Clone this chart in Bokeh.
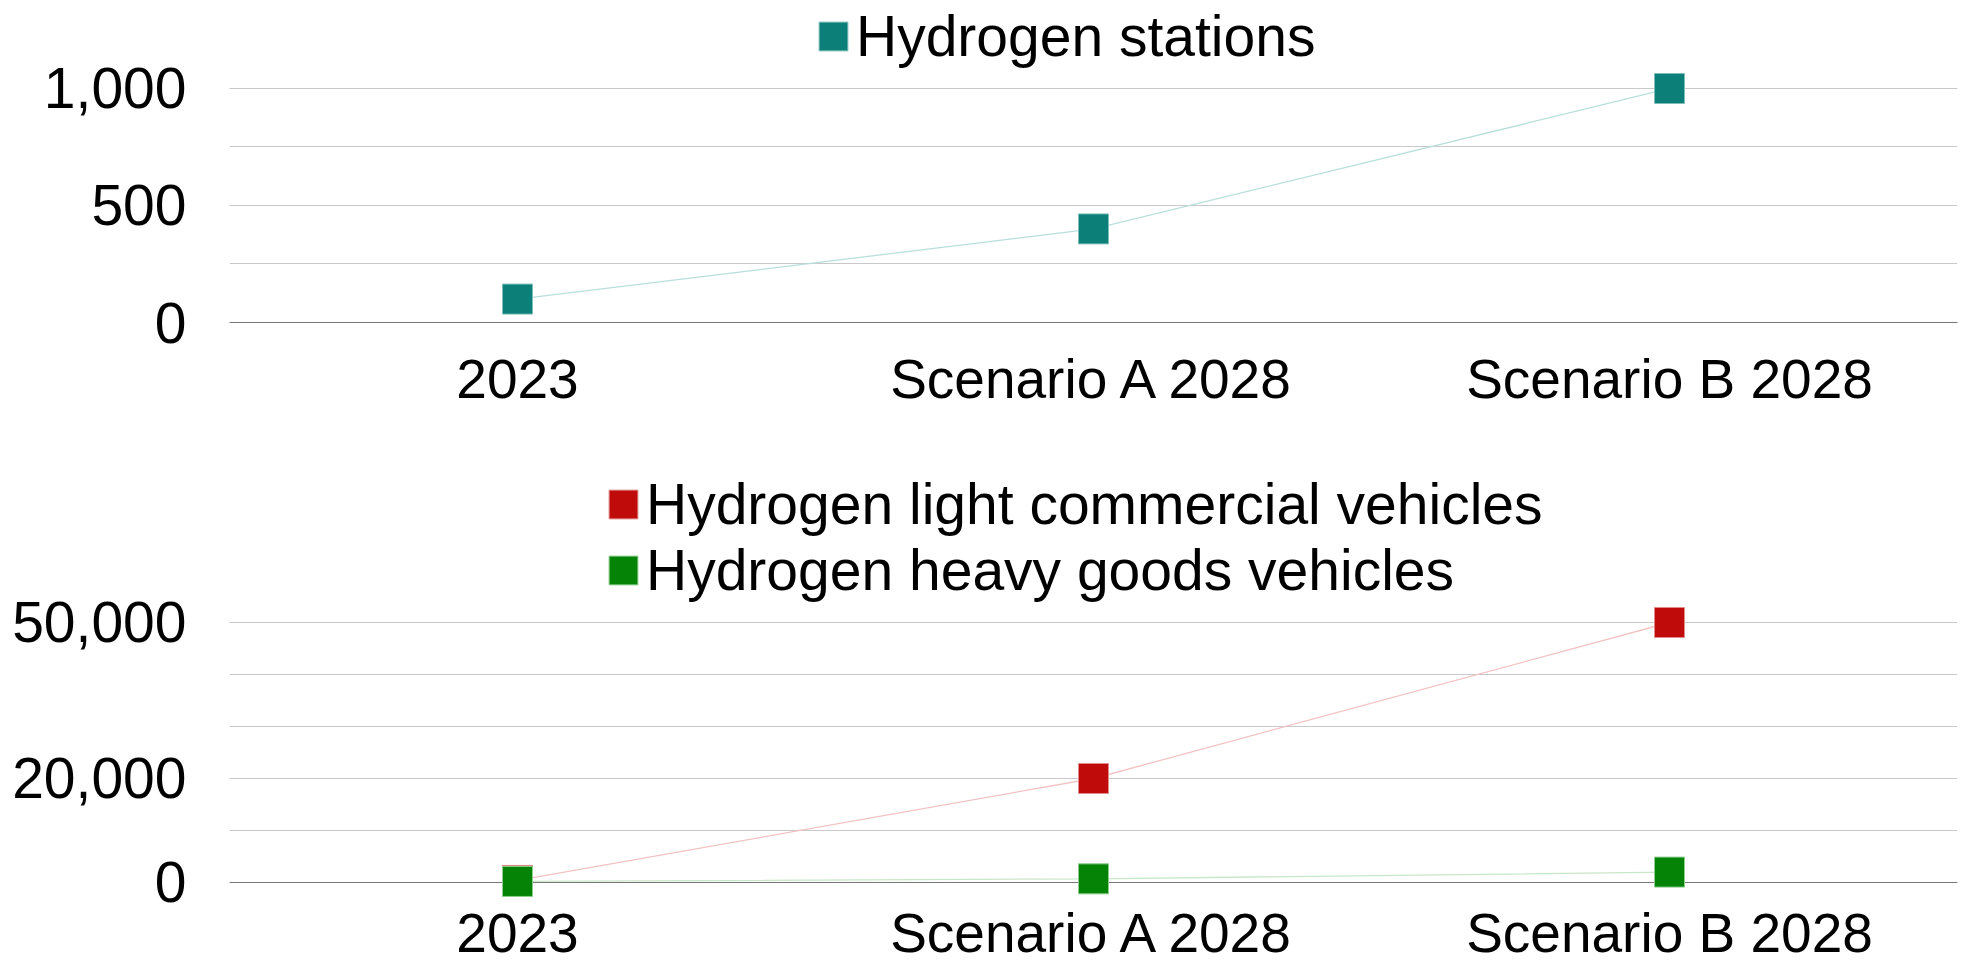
from bokeh.plotting import figure
from bokeh.layouts import column
from bokeh.models import (FactorRange, Range1d, FixedTicker, NumeralTickFormatter,
                          Legend, LegendItem, Span, ColumnDataSource)
from bokeh.embed import file_html
from bokeh.resources import INLINE

# ---------------- data ----------------
categories = ["2023", "Scenario A 2028", "Scenario B 2028"]
stations = [100, 400, 1000]
lcv = [400, 20000, 50000]
hgv = [200, 700, 2000]

top_ticks = [0, 500, 1000]
top_minor = [0, 250, 500, 750, 1000]
bottom_ticks = [0, 20000, 50000]
bottom_minor = [0, 10000, 20000, 30000, 40000, 50000]

label_stations = "Hydrogen stations"
label_lcv = "Hydrogen light commercial vehicles"
label_hgv = "Hydrogen heavy goods vehicles"

# ---------------- style ----------------
AX_FONT = "Liberation Sans"
LG_FONT = "Liberation Sans"
TEAL, TEAL_L = "#0b7f78", "#b9dfdb"
RED, RED_L = "#c00b0b", "#f3c2c2"
GREEN, GREEN_L = "#058306", "#c8e7c8"
GRID = "#c9c9c9"
AXIS = "#767676"
W = 1961


def make_fig(height, y0, y1, ticks, minor, border_bottom, x_standoff):
    p = figure(x_range=FactorRange(factors=categories, range_padding=0),
               y_range=Range1d(y0, y1), width=W, height=height,
               output_backend="svg", toolbar_location=None,
               min_border_left=229, min_border_right=4, min_border_top=0,
               min_border_bottom=border_bottom, outline_line_color=None,
               background_fill_color="white", border_fill_color="white")
    p.xgrid.grid_line_color = None
    p.yaxis.ticker = FixedTicker(ticks=ticks, minor_ticks=minor)
    p.yaxis.formatter = NumeralTickFormatter(format="0,0")
    p.ygrid.grid_line_color = GRID
    p.ygrid.minor_grid_line_color = GRID
    p.ygrid.grid_line_width = 1
    p.yaxis.axis_line_color = None
    p.yaxis.major_tick_line_color = None
    p.yaxis.minor_tick_line_color = None
    p.yaxis.major_tick_out = 0
    p.yaxis.major_label_text_font = AX_FONT
    p.yaxis.major_label_text_font_size = "57px"
    p.yaxis.major_label_text_color = "black"
    p.yaxis.major_label_standoff = 39
    p.xaxis.major_tick_line_color = None
    p.xaxis.minor_tick_line_color = None
    p.xaxis.major_tick_out = 0
    p.xaxis.major_label_text_font = AX_FONT
    p.xaxis.major_label_text_font_size = "55px"
    p.xaxis.major_label_text_color = "black"
    p.xaxis.major_label_standoff = x_standoff
    p.xaxis.axis_line_color = AXIS
    p.xaxis.axis_line_width = 1
    return p


def legend_for(p, items, x, y):
    lg = Legend(items=items, location=(x, y), orientation="vertical",
                glyph_width=36, glyph_height=36, label_standoff=5,
                spacing=-3, padding=0, margin=0,
                border_line_color=None, background_fill_alpha=0,
                label_text_font=LG_FONT, label_text_font_size="57px",
                label_text_color="black")
    p.add_layout(lg, "center")


# ---------------- top chart ----------------
top = make_fig(420, 0, 1376, top_ticks, top_minor, 98, 25)
src_top = ColumnDataSource(dict(cat=categories, v=stations))
top.line("cat", "v", source=src_top, line_color=TEAL_L, line_width=1.3)
r_st = top.rect("cat", "v", source=src_top, width=30, height=30,
                width_units="screen", height_units="screen",
                fill_color=TEAL, line_color="#7fbfba", line_width=1)
legend_for(top, [LegendItem(label=label_stations, renderers=[r_st])], 586, 253)

# ---------------- bottom chart ----------------
# frame: page y 420..898, zero line at page 882, 5.2 px per 1000
bot = make_fig(547, -3077, 88846, bottom_ticks, bottom_minor, 69, 3)
bot.xaxis.axis_line_color = None
bot.add_layout(Span(location=0, dimension="width", line_color=AXIS,
                    line_width=1, level="underlay"))
src_b = ColumnDataSource(dict(cat=categories, lcv=lcv, hgv=hgv))
bot.line("cat", "lcv", source=src_b, line_color=RED_L, line_width=1.3)
bot.line("cat", "hgv", source=src_b, line_color=GREEN_L, line_width=1.3)
r_l = bot.rect("cat", "lcv", source=src_b, width=30, height=30,
               width_units="screen", height_units="screen",
               fill_color=RED, line_color="#e08a8a", line_width=1)
r_h = bot.rect("cat", "hgv", source=src_b, width=30, height=30,
               width_units="screen", height_units="screen",
               fill_color=GREEN, line_color="#8ccc8c", line_width=1)
legend_for(bot, [LegendItem(label=label_lcv, renderers=[r_l]),
                 LegendItem(label=label_hgv, renderers=[r_h])], 376, 295)

layout = column(top, bot, spacing=0)
open("out.html", "w").write(file_html(layout, INLINE))
